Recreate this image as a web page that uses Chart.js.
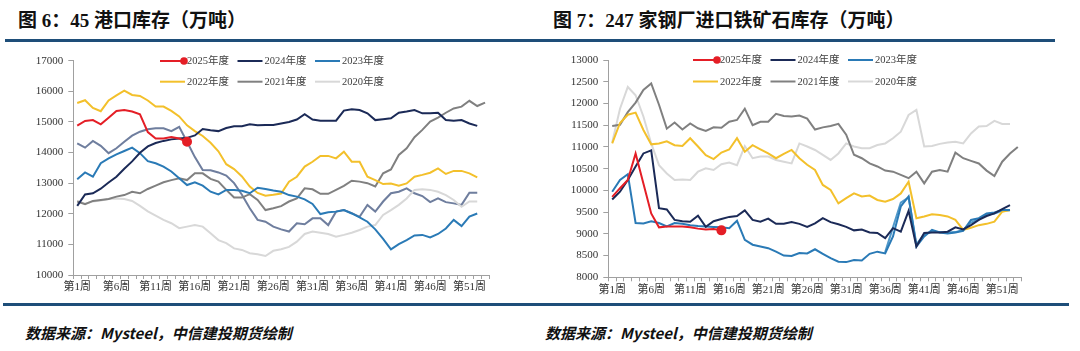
<!DOCTYPE html>
<html>
<head>
<meta charset="utf-8">
<script src="https://cdn.jsdelivr.net/npm/chart.js@4.4.1/dist/chart.umd.min.js"></script>
<style>
  body { margin: 0; width: 1080px; height: 351px; background: #fff; position: relative; overflow: hidden;
         font-family: "Liberation Serif", "Noto Sans CJK SC", serif; }
  .title { position: absolute; top: 5px; font-size: 19px; font-weight: bold; color: #111; white-space: nowrap; }
  .rule { position: absolute; height: 3px; background: #1E4E79; }
  .box { position: absolute; top: 40px; width: 540px; height: 260px; }
  .src { position: absolute; top: 322px; font-size: 15px; font-style: italic; font-weight: bold; color: #111;
         white-space: nowrap; font-family: "Noto Sans CJK SC", sans-serif; }
</style>
</head>
<body>
<div class="title" style="left:18px">图 6：45 港口库存（万吨）</div>
<div class="title" style="left:553px">图 7：247 家钢厂进口铁矿石库存（万吨）</div>
<div class="rule" style="left:5px;width:1050px;top:39px"></div>
<div class="box" style="left:0"><canvas id="portChart"></canvas></div>
<div class="box" style="left:540px"><canvas id="millChart"></canvas></div>
<div class="rule" style="left:3px;width:1066px;top:303px"></div>
<div class="src" style="left:25px">数据来源：Mysteel，中信建投期货绘制</div>
<div class="src" style="left:545px">数据来源：Mysteel，中信建投期货绘制</div>

<script>
// week labels 第1周 .. 第53周
const weeks = [];
for (let i = 1; i <= 53; i++) weeks.push('第' + i + '周');

const yearLabels = ['2025年度', '2024年度', '2023年度', '2022年度', '2021年度', '2020年度'];
const colors = ['#E41E26', '#1B2A57', '#2A7AB6', '#F3C02B', '#808080', '#D8D8D8'];

// 45 港口库存（万吨）
const port2025 = [14880, 15030, 15060, 14920, 15140, 15360, 15390, 15340, 15250, 14670, 14460, 14460, 14510, 14460, 14350];
const port2024 = [12260, 12630, 12670, 12820, 13020, 13210, 13470, 13710, 13990, 14200, 14310, 14380, 14430, 14460, 14480,
  14560, 14770, 14730, 14700, 14800, 14860, 14860, 14920, 14890, 14900, 14900, 14950, 15000, 15080, 15250, 15080, 15040,
  15040, 15040, 15370, 15410, 15390, 15280, 15060, 15090, 15120, 15300, 15340, 15390, 15280, 15280, 15300, 15060, 15040,
  15060, 14950, 14870];
const port2023 = [13130, 13350, 13210, 13650, 13810, 13940, 14050, 14160, 13980, 13720, 13650, 13540, 13380, 13160, 12940,
  13030, 12920, 12720, 12630, 12780, 12780, 12750, 12670, 12850, 12810, 12760, 12720, 12610, 12560, 12470, 12320, 11990,
  12050, 12070, 12120, 12010, 11880, 11740, 11490, 11180, 10840, 11010, 11140, 11290, 11310, 11230, 11340, 11520, 11800,
  11600, 11910, 12010];
const port2022 = [15620, 15710, 15460, 15350, 15700, 15870, 16020, 15880, 15850, 15700, 15500, 15500, 15360, 15180, 14890,
  14700, 14540, 14320, 14040, 13620, 13460, 13220, 12890, 12680, 12590, 12620, 12660, 13050, 13210, 13540, 13700, 13890,
  13890, 13810, 14030, 13700, 13700, 13210, 13100, 12970, 12990, 12920, 12990, 13210, 13270, 13340, 13480, 13300, 13400,
  13400, 13320, 13190];
const port2021 = [12400, 12310, 12420, 12450, 12480, 12560, 12610, 12720, 12670, 12810, 12920, 13030, 13100, 13160, 13100,
  13320, 13320, 13140, 13050, 12780, 12530, 12530, 12640, 12450, 12120, 12180, 12250, 12400, 12500, 12830, 12800, 12650,
  12650, 12780, 12910, 13080, 13050, 13000, 12890, 13320, 13450, 13920, 14140, 14500, 14740, 15010, 15140, 15300, 15440,
  15500, 15690, 15520, 15630];
const port2020 = [12420, 12330, 12400, 12430, 12480, 12500, 12480, 12420, 12260, 12080, 11940, 11800, 11690, 11530, 11580,
  11630, 11580, 11360, 11140, 11040, 10870, 10820, 10710, 10680, 10620, 10790, 10840, 10920, 11090, 11340, 11420, 11380,
  11340, 11250, 11310, 11380, 11470, 11580, 11630, 11960, 12120, 12290, 12500, 12780, 12800, 12780, 12720, 12610, 12450,
  12230, 12400, 12400];
// series drawn in slate blue, not listed in the legend
const portOther = [14300, 14160, 14380, 14220, 13980, 14140, 14350, 14550, 14680, 14760, 14790, 14790, 14700, 14840, 14350,
  13850, 13430, 13420, 13350, 13250, 13000, 12620, 12180, 11800, 11740, 11580, 11490, 11420, 11690, 11660, 11850, 11850,
  11630, 12070, 12120, 12020, 11900, 12290, 12070, 12400, 12670, 12720, 12830, 12670, 12580, 12380, 12500, 12380, 12340,
  12290, 12690, 12690];

// 247 家钢厂进口铁矿石库存（万吨）
const mill2025 = [9850, 10050, 10240, 10850, 10160, 9470, 9150, 9170, 9170, 9170, 9150, 9120, 9100, 9110, 9080];
const mill2024 = [9790, 9970, 10240, 10550, 10850, 10920, 9590, 9560, 9320, 9290, 9280, 9420, 9160, 9290, 9340, 9390, 9410,
  9540, 9320, 9280, 9350, 9230, 9230, 9270, 9230, 9160, 9240, 9360, 9270, 9220, 9160, 9080, 9100, 9030, 9020, 8900, 9130,
  9050, 9530, 8710, 9020, 9030, 9030, 9050, 9150, 9100, 9200, 9320, 9410, 9470, 9570, 9660];
const mill2023 = [9970, 10240, 10370, 9250, 9240, 9290, 9250, 9170, 9250, 9230, 9200, 9180, 9170, 9160, 9150, 9130, 9300,
  8860, 8750, 8710, 8670, 8590, 8500, 8490, 8560, 8550, 8645, 8540, 8440, 8360, 8350, 8400, 8385, 8540, 8590, 8550, 8940,
  9630, 9860, 8710, 8940, 9090, 9030, 9010, 9030, 9070, 9320, 9360, 9470, 9490, 9550, 9550];
const mill2022 = [11080, 11550, 11740, 11790, 11390, 11060, 11080, 11130, 11040, 11020, 11200, 11010, 10810, 10720, 10870,
  10940, 11200, 10890, 11040, 10945, 10850, 10740, 10840, 10930, 10740, 10590, 10470, 10125, 10010, 9700, 9820, 9930, 9860,
  9880, 9780, 9740, 9800, 9930, 10200, 9360, 9400, 9450, 9435, 9400, 9320, 9090, 9140, 9200, 9230, 9280, 9510, 9550];
const mill2021 = [11480, 11510, 11800, 12020, 12310, 12460, 11970, 11420, 11560, 11400, 11540, 11430, 11370, 11450, 11440,
  11580, 11620, 11880, 11500, 11580, 11580, 11760, 11710, 11700, 11720, 11650, 11400, 11450, 11480, 11530, 11280, 10820,
  10740, 10620, 10550, 10455, 10430, 10355, 10280, 10430, 10160, 10430, 10470, 10430, 10870, 10740, 10680, 10620, 10455,
  10330, 10660, 10850, 11000];
const mill2020 = [11100, 11880, 12380, 12190, 11700, 11080, 10580, 10390, 10240, 10250, 10240, 10430, 10510, 10470, 10600,
  10640, 10580, 11020, 10740, 10780, 10780, 10700, 10660, 10620, 11080, 11010, 10930, 10815, 10700, 10850, 11080, 11010,
  10970, 10970, 11045, 11080, 11200, 11350, 11735, 11850, 11010, 11020, 11070, 11100, 11120, 11080, 11310, 11470, 11480,
  11600, 11530, 11530];
// light blue trace visible only from week 36, not listed in the legend
const millOther = Array(35).fill(null).concat([8580, 9150, 9720, 9840, 8760, 8990, 9050, 9040, 9030, 9040, 9090, 9260,
  9330, 9440, 9470, 9530, 9540]);

const fontFamily = '"Liberation Serif", "Noto Sans CJK SC", serif';
Chart.defaults.font.family = fontFamily;
Chart.defaults.font.size = 11;
Chart.defaults.color = '#333';

// two-row legend drawn on the canvas, three items per row
const yearLegend = {
  id: 'yearLegend',
  afterDraw(chart, args, opts) {
    const ctx = chart.ctx;
    ctx.save();
    ctx.font = '10.5px ' + fontFamily;
    ctx.textBaseline = 'middle';
    yearLabels.forEach((label, i) => {
      const x = opts.x + (i % 3) * opts.pitch;
      const y = opts.y + Math.floor(i / 3) * opts.rowGap;
      ctx.strokeStyle = colors[i];
      ctx.lineWidth = 2;
      ctx.beginPath();
      ctx.moveTo(x, y);
      ctx.lineTo(x + 25, y);
      ctx.stroke();
      if (i === 0) {
        ctx.fillStyle = colors[0];
        ctx.beginPath();
        ctx.arc(x + 24, y, 3.8, 0, Math.PI * 2);
        ctx.fill();
      }
      ctx.fillStyle = '#404040';
      ctx.fillText(label, x + 27, y + 0.5);
    });
    ctx.restore();
  }
};

function line(label, data, color, lastDot) {
  return {
    label: label,
    data: data,
    borderColor: color,
    backgroundColor: color,
    borderWidth: 2,
    tension: 0,
    pointRadius: lastDot ? data.map((v, i) => i === data.length - 1 ? 4 : 0) : 0,
    pointHoverRadius: 0
  };
}

function drawChart(id, series, extraColor, yMin, yMax, yStep, pad, yWidth, xHeight, legendPos) {
  const datasets = series.map((s, i) => line(yearLabels[i], s, colors[i], i === 0));
  datasets.push(line('', series[6], extraColor, false));

  new Chart(document.getElementById(id), {
    type: 'line',
    data: { labels: weeks, datasets: datasets },
    options: {
      responsive: true,
      maintainAspectRatio: false,
      animation: false,
      events: [],
      layout: { padding: pad },
      plugins: { legend: { display: false }, tooltip: { enabled: false }, yearLegend: legendPos },
      scales: {
        x: {
          offset: true,
          grid: { offset: true, drawOnChartArea: false, tickLength: 4, color: '#A0A0A0' },
          border: { color: '#A0A0A0' },
          ticks: {
            autoSkip: false, maxRotation: 0, minRotation: 0, padding: 2,
            callback: (v, i) => i % 5 === 0 ? weeks[i] : ''
          },
          afterFit: s => { s.height = xHeight; }
        },
        y: {
          min: yMin, max: yMax,
          grid: { drawOnChartArea: false, tickLength: 5, color: '#A0A0A0' },
          border: { color: '#A0A0A0' },
          ticks: { stepSize: yStep, padding: 5, callback: v => String(v) },
          afterFit: s => { s.width = yWidth; }
        }
      }
    },
    plugins: [yearLegend]
  });
}

drawChart('portChart',
  [port2025, port2024, port2023, port2022, port2021, port2020, portOther], '#7C8DB0',
  10000, 17000, 1000, { top: 20.7, right: 51, left: 0, bottom: 0 }, 73.3, 25,
  { x: 160, y: 21, pitch: 77.5, rowGap: 20.7 });

drawChart('millChart',
  [mill2025, mill2024, mill2023, mill2022, mill2021, mill2020, millOther], '#5AAAE0',
  8000, 13000, 500, { top: 20, right: 58.3, left: 0, bottom: 0 }, 68.3, 22.7,
  { x: 153, y: 20, pitch: 77.5, rowGap: 21.5 });
</script>
</body>
</html>
